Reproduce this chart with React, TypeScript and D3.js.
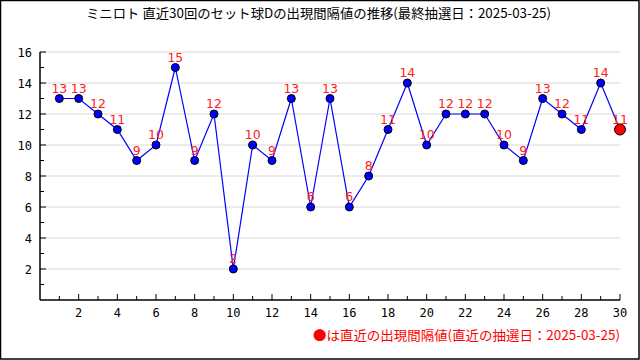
import React from "react";
import * as d3 from "d3";

const title = "ミニロト 直近30回のセット球Dの出現間隔値の推移(最終抽選日：2025-03-25)";
const legendText = "●は直近の出現間隔値(直近の抽選日：2025-03-25)";
const draws = d3.range(1, 31);
const values = [13, 13, 12, 11, 9, 10, 15, 9, 12, 2, 10, 9, 13, 6, 13, 6, 8, 11, 14, 10, 12, 12, 12, 10, 9, 13, 12, 11, 14, 11];
const yMajor = [2, 4, 6, 8, 10, 12, 14, 16];
const xMajor = [2, 4, 6, 8, 10, 12, 14, 16, 18, 20, 22, 24, 26, 28, 30];

const W = 640, H = 360;
const L = 40, R = 620, T = 52, B = 300;
const mono = "'DejaVu Sans Mono', 'Liberation Mono', monospace";
const cjk = "'Noto Sans CJK JP', sans-serif";

export default function App() {
  const x = d3.scaleLinear().domain([0, 30]).range([L, R]);
  const y = d3.scaleLinear().domain([0, 16]).range([B, T]);
  const line = d3.line<number>().x((_, i) => x(draws[i])).y((d) => y(d));
  const last = values.length - 1;
  return (
    <svg width={W} height={H} style={{ position: "absolute", left: 0, top: 0, background: "#fff" }}>
      <rect x={0.5} y={0.5} width={W - 1.5} height={H - 1.5} fill="#fff" stroke="#000" strokeWidth={1.5} />
      <text x={86} y={18} textLength={465} lengthAdjust="spacingAndGlyphs" fontFamily={cjk} fontSize={13} fill="#000">{title}</text>
      {yMajor.map((v) => (
        <line key={"g" + v} x1={L} x2={R} y1={y(v)} y2={y(v)} stroke="#d8d8d8" strokeWidth={1} />
      ))}
      <line x1={L} x2={L} y1={T} y2={B} stroke="#000" strokeWidth={1.5} />
      <line x1={L} x2={R} y1={B} y2={B} stroke="#000" strokeWidth={1.5} />
      {d3.range(1, 17).map((v) => (
        <line key={"yt" + v} x1={L} x2={L + (v % 2 === 0 ? 6 : 4)} y1={y(v)} y2={y(v)} stroke="#000" strokeWidth={1} />
      ))}
      {yMajor.map((v) => (
        <text key={"yl" + v} x={32} y={y(v) + 4.5} textAnchor="end" fontFamily={mono} fontSize={12} fill="#000">{v}</text>
      ))}
      {d3.range(1, 31).map((v) => (
        <line key={"xt" + v} x1={x(v)} x2={x(v)} y1={B} y2={B - (v % 2 === 0 ? 6 : 4)} stroke="#000" strokeWidth={1} />
      ))}
      {xMajor.map((v) => (
        <text key={"xl" + v} x={x(v)} y={317} textAnchor="middle" fontFamily={mono} fontSize={12} fill="#000">{v}</text>
      ))}
      <path d={line(values) || ""} fill="none" stroke="#0000ff" strokeWidth={1.2} />
      {values.map((v, i) => (
        <text key={"dl" + i} x={x(draws[i])} y={y(v) - 6} textAnchor="middle" fontFamily="'DejaVu Sans', sans-serif" fontSize={12.5} fill="#ff2020">{v}</text>
      ))}
      {values.map((v, i) =>
        i === last ? (
          <circle key={"p" + i} cx={x(draws[i])} cy={y(v)} r={5.5} fill="#ff0000" stroke="#000" strokeWidth={1} />
        ) : (
          <circle key={"p" + i} cx={x(draws[i])} cy={y(v)} r={4} fill="#0000ff" stroke="#000" strokeWidth={1} />
        )
      )}
      <text x={313} y={340} textLength={307} lengthAdjust="spacingAndGlyphs" fontFamily={cjk} fontSize={13} fill="#ff0000">{legendText}</text>
    </svg>
  );
}
